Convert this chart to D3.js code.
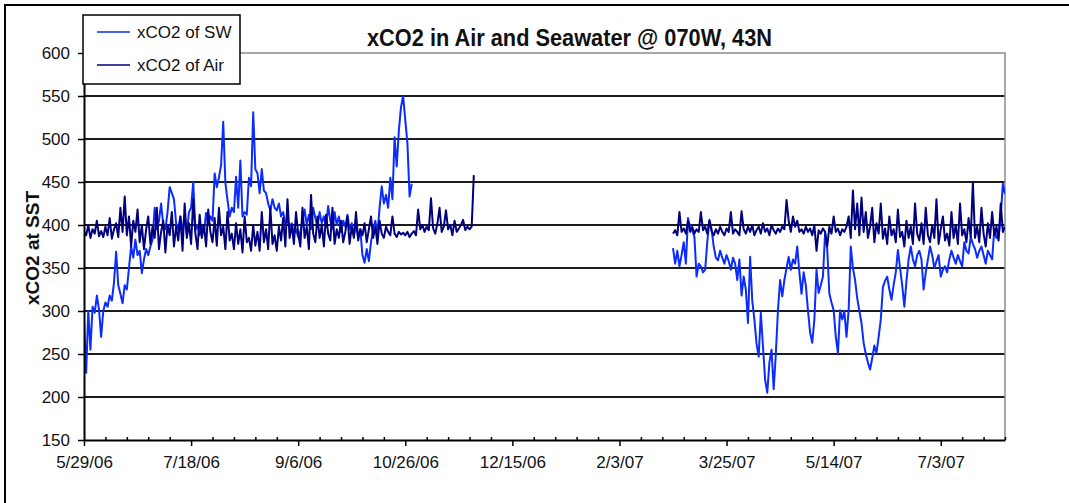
<!DOCTYPE html>
<html>
<head>
<meta charset="utf-8">
<script src="https://cdn.jsdelivr.net/npm/d3@7"></script>
<style>
  body { margin: 0; background: #fff; }
  svg text { font-family: "Liberation Sans", Arial, sans-serif; }
</style>
</head>
<body>
<div id="chart"></div>
<script>
// daily readings, first deployment (starts 5/29/06)
const seg1Start = "5/29/06";
const swSeg1 = [
  290,228,300,255,305,298,318,302,270,300,
  310,305,318,312,333,369,330,320,309,330,
  325,350,375,362,383,365,370,344,360,372,
  365,375,383,420,395,405,425,400,395,415,
  444,437,430,402,395,410,395,405,390,415,
  420,450,394,400,388,398,392,414,402,410,
  405,460,444,455,470,520,449,429,410,420,
  415,456,420,475,410,415,412,455,445,531,
  465,460,437,465,440,437,425,417,430,420,
  417,425,410,415,402,406,398,402,390,395,
  386,392,405,418,400,412,395,420,408,398,
  415,402,410,398,422,405,395,415,400,410,
  392,405,398,412,395,402,388,400,385,395,
  365,356,372,358,380,395,405,390,420,445,
  425,435,420,455,430,502,468,510,537,550,
  522,495,433,448
];
const airSeg1 = [
  392,388,400,385,395,390,405,387,393,386,
  398,388,408,384,395,402,386,420,392,433,
  388,410,375,405,392,418,380,400,372,395,
  410,378,398,385,420,372,392,405,368,400,
  388,415,375,398,382,410,370,425,385,402,
  378,430,390,372,412,385,400,375,418,392,
  380,408,376,420,388,398,372,415,382,390,
  372,402,378,395,368,410,380,385,370,400,
  376,392,370,415,380,395,372,420,378,388,
  370,398,382,408,375,430,385,400,378,415,
  390,375,420,385,398,372,435,390,380,410,
  385,400,375,412,390,382,420,378,395,385,
  405,380,392,410,378,398,385,415,382,395,
  388,402,380,395,410,385,398,378,405,390,
  385,398,392,388,410,390,386,392,389,391,
  388,392,386,390,393,388,418,395,400,392,
  398,394,431,396,390,402,420,392,398,417,
  395,400,388,405,392,396,400,406,394,398,
  395,398,458
];

// daily readings, second deployment (starts 2/28/07)
const seg2Start = "2/28/07";
const swSeg2 = [
  373,355,370,352,365,380,355,408,398,394,
  386,340,355,352,345,348,380,406,395,375,
  362,359,370,362,355,365,358,348,362,355,
  336,360,318,340,325,286,363,312,290,262,
  247,298,259,220,205,240,255,209,250,301,
  336,317,336,350,363,348,360,355,375,345,
  320,345,330,301,275,263,290,348,321,330,
  340,390,372,320,310,301,270,251,301,290,
  300,270,301,375,350,336,315,300,286,263,
  250,240,232,245,260,251,270,290,328,335,
  340,325,313,330,345,371,350,330,305,335,
  360,375,360,352,365,370,360,325,345,360,
  375,365,350,358,365,340,348,352,345,360,
  370,362,355,365,358,352,380,370,367,386,
  378,372,362,370,375,365,355,370,365,360,
  395,385,386,410,448,436
];
const airSeg2 = [
  390,394,388,415,392,396,390,405,392,398,
  390,395,392,415,394,398,390,405,393,388,
  395,390,398,392,388,396,392,415,390,395,
  392,388,416,395,390,398,392,400,388,394,
  398,390,402,392,396,388,400,394,390,396,
  392,398,395,429,405,392,410,398,405,392,
  395,390,398,392,396,388,400,370,394,390,
  396,392,375,398,390,410,392,396,388,395,
  392,398,410,385,440,395,425,388,432,392,
  415,385,398,420,380,402,390,425,384,396,
  378,410,388,395,380,418,386,392,375,405,
  385,398,378,425,390,382,402,378,420,388,
  380,400,385,430,378,395,410,382,390,376,
  415,385,400,378,425,388,395,380,408,386,
  450,385,398,380,420,390,375,402,385,415,
  388,398,382,425,392,398
];

const xDomain = ["5/29/06", "8/2/07"];
const xTickLabels = ["5/29/06","7/18/06","9/6/06","10/26/06","12/15/06","2/3/07","3/25/07","5/14/07","7/3/07"];
const minorStepDays = 10;
const yTicks = [150,200,250,300,350,400,450,500,550,600];
const seriesNames = ["xCO2 of SW", "xCO2 of Air"];
const seriesColors = ["#0a2cff", "#00007e"];

const W = 1069, H = 503;
const plot = { left: 84, right: 1005, top: 53, bottom: 440 };

const parse = d3.timeParse("%m/%d/%y");

function toPoints(startStr, values) {
  const start = parse(startStr);
  return values.map((v, i) => ({ date: d3.timeDay.offset(start, i), v }));
}

const x = d3.scaleTime()
  .domain(xDomain.map(parse))
  .range([plot.left, plot.right]);

const y = d3.scaleLinear()
  .domain([150, 600])
  .range([plot.bottom, plot.top]);

const svg = d3.select("#chart").append("svg")
  .attr("width", W)
  .attr("height", H);

svg.append("rect").attr("width", W).attr("height", H).attr("fill", "#fff");

// outer chart frame (runs off the right/bottom of the crop)
svg.append("rect")
  .attr("x", 5).attr("y", 5)
  .attr("width", 1200).attr("height", 700)
  .attr("fill", "none")
  .attr("stroke", "#000")
  .attr("stroke-width", 2);

// gridlines
svg.append("g").selectAll("line")
  .data(yTicks.filter(t => t > 150 && t < 600))
  .enter().append("line")
  .attr("x1", plot.left).attr("x2", plot.right)
  .attr("y1", d => y(d)).attr("y2", d => y(d))
  .attr("stroke", "#1c1c1c")
  .attr("stroke-width", 2);

// plot border (top / right)
svg.append("path")
  .attr("d", `M${plot.left},${plot.top}H${plot.right}V${plot.bottom}`)
  .attr("fill", "none")
  .attr("stroke", "#8a8a8a")
  .attr("stroke-width", 1.5);

svg.append("clipPath").attr("id", "plotclip")
  .append("rect")
  .attr("x", plot.left).attr("y", plot.top)
  .attr("width", plot.right - plot.left)
  .attr("height", plot.bottom - plot.top);

const line = d3.line()
  .x(d => x(d.date))
  .y(d => y(d.v));

const series = [
  { data: toPoints(seg1Start, swSeg1), color: seriesColors[0] },
  { data: toPoints(seg2Start, swSeg2), color: seriesColors[0] },
  { data: toPoints(seg1Start, airSeg1), color: seriesColors[1] },
  { data: toPoints(seg2Start, airSeg2), color: seriesColors[1] }
];

svg.append("g")
  .attr("clip-path", "url(#plotclip)")
  .selectAll("path")
  .data(series)
  .enter().append("path")
  .attr("d", s => line(s.data))
  .attr("fill", "none")
  .attr("stroke", s => s.color)
  .attr("stroke-width", 2)
  .attr("stroke-linejoin", "round");

// y axis
const yAxis = svg.append("g")
  .attr("transform", `translate(${plot.left},0)`)
  .call(d3.axisLeft(y).tickValues(yTicks).tickSize(6).tickSizeOuter(0).tickPadding(8));

// x axis
const majorDates = xTickLabels.map(parse);
const xAxis = svg.append("g")
  .attr("transform", `translate(0,${plot.bottom})`)
  .call(d3.axisBottom(x).tickValues(majorDates)
    .tickFormat((d, i) => xTickLabels[i])
    .tickSize(6).tickSizeOuter(0).tickPadding(10));

const minorDates = d3.timeDay.range(x.domain()[0], d3.timeDay.offset(x.domain()[1], 1), minorStepDays)
  .filter((d, i) => i % 5 !== 0);
svg.append("g")
  .attr("transform", `translate(0,${plot.bottom})`)
  .call(d3.axisBottom(x).tickValues(minorDates).tickSize(-3).tickSizeOuter(0).tickFormat(""))
  .call(g => g.select(".domain").remove());

svg.selectAll(".tick line").attr("stroke", "#000").attr("stroke-width", 1.5);
[xAxis, yAxis].forEach(g => {
  g.select(".domain").attr("stroke", "#000").attr("stroke-width", 2);
  g.selectAll(".tick text")
    .attr("fill", "#111")
    .style("font-size", "17px")
    .style("font-family", '"Liberation Sans", Arial, sans-serif');
});

// y title
svg.append("text")
  .attr("transform", "translate(32,248) rotate(-90)")
  .attr("text-anchor", "middle")
  .attr("dominant-baseline", "central")
  .style("font-size", "19px")
  .style("font-weight", "bold")
  .attr("fill", "#111")
  .text("xCO2 at SST");

// chart title
svg.append("text")
  .attr("x", 569.5)
  .attr("y", 46)
  .attr("text-anchor", "middle")
  .attr("textLength", 405)
  .attr("lengthAdjust", "spacingAndGlyphs")
  .style("font-family", '"Liberation Sans Narrow", "Liberation Sans", Arial, sans-serif')
  .style("font-size", "24px")
  .style("font-weight", "bold")
  .attr("fill", "#111")
  .text("xCO2 in Air and Seawater  @ 070W, 43N");

// legend
const legend = svg.append("g");
legend.append("rect")
  .attr("x", 83).attr("y", 15)
  .attr("width", 157).attr("height", 69)
  .attr("fill", "#fff")
  .attr("stroke", "#000")
  .attr("stroke-width", 1.5);

const items = legend.selectAll("g.item")
  .data(seriesNames)
  .enter().append("g")
  .attr("class", "item")
  .attr("transform", (d, i) => `translate(0,${32 + i * 33})`);

items.append("line")
  .attr("x1", 97).attr("x2", 130)
  .attr("stroke", (d, i) => seriesColors[i])
  .attr("stroke-width", 1.6);

items.append("text")
  .attr("x", 137)
  .attr("y", 6)
  .style("font-size", "17px")
  .attr("fill", "#111")
  .text(d => d);
</script>
</body>
</html>
